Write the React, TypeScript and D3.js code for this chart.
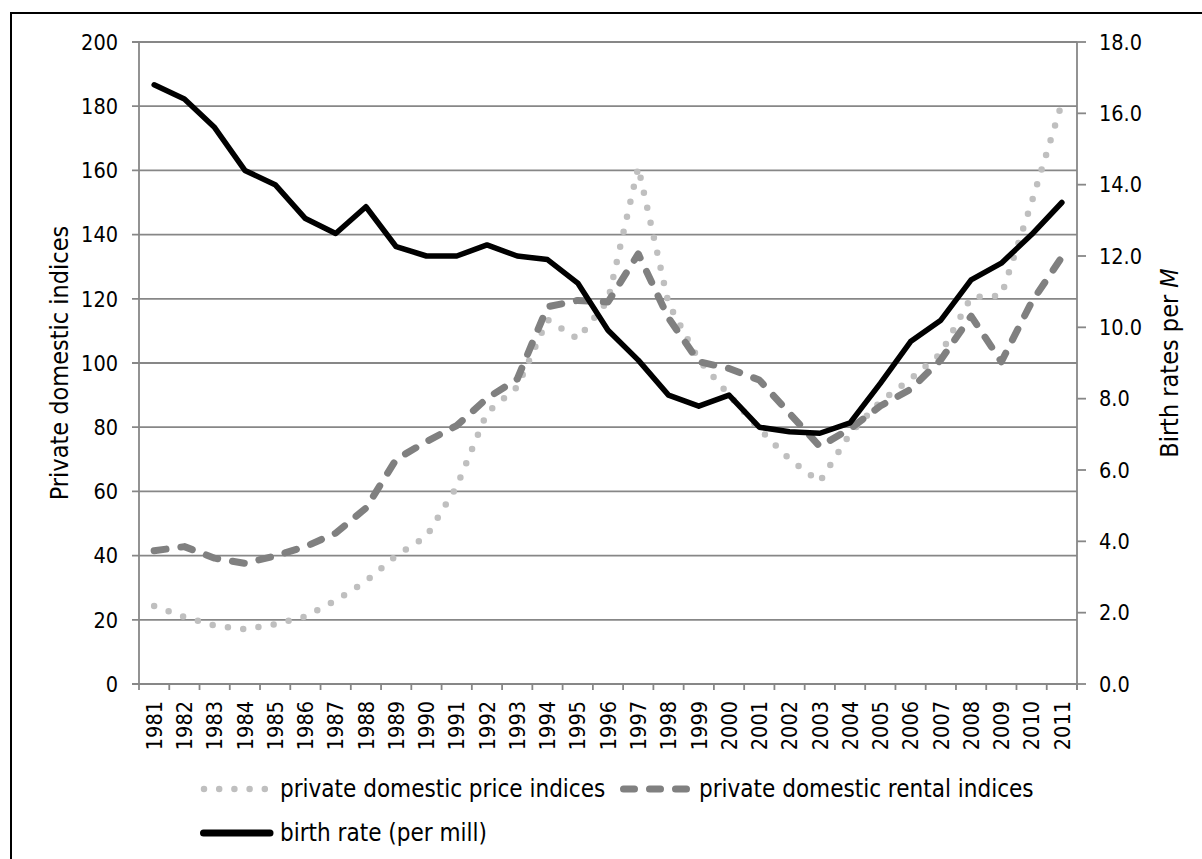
import React from "react";
import * as d3 from "d3";

const years: string[] = [
  "1981","1982","1983","1984","1985","1986","1987","1988","1989","1990",
  "1991","1992","1993","1994","1995","1996","1997","1998","1999","2000",
  "2001","2002","2003","2004","2005","2006","2007","2008","2009","2010","2011",
];

const priceIndices: number[] = [
  24.3, 20.9, 18.2, 17.1, 18.6, 21, 26, 32, 40, 46,
  61.5, 84.5, 92.5, 113.5, 107.5, 119.5, 161, 118.5, 101, 90,
  79.5, 70, 63, 78, 88, 95, 103, 120.5, 121, 150, 181,
];

const rentalIndices: number[] = [
  41.5, 42.8, 39.2, 37.6, 39.9, 42.8, 47, 54.8, 70, 75.5,
  80.5, 89, 95, 117.5, 119.5, 119, 134, 114, 100.4, 98.3,
  94.7, 84.3, 74, 79.5, 86.6, 91.8, 101, 114.6, 100.4, 119, 133,
];

const birthRate: number[] = [
  16.8, 16.4, 15.6, 14.4, 14.0, 13.05, 12.63, 13.38, 12.26, 12.0,
  12.0, 12.31, 12.0, 11.9, 11.24, 9.92, 9.08, 8.1, 7.79, 8.1,
  7.2, 7.07, 7.03, 7.32, 8.43, 9.6, 10.2, 11.33, 11.8, 12.6, 13.5,
];

const leftTicks: number[] = [0, 20, 40, 60, 80, 100, 120, 140, 160, 180, 200];
const rightTicks: number[] = [0, 2, 4, 6, 8, 10, 12, 14, 16, 18];

const FONT = "'DejaVu Sans Condensed', 'DejaVu Sans', sans-serif";

export default function App() {
  const W = 1202;
  const H = 859;
  const left = 139;
  const right = 1077;
  const top = 42;
  const bottom = 684;

  const x = d3.scaleBand<string>().domain(years).range([left, right]).paddingInner(0).paddingOuter(0);
  const yL = d3.scaleLinear().domain([0, 200]).range([bottom, top]);
  const yR = d3.scaleLinear().domain([0, 18]).range([bottom, top]);
  const cx = (y: string) => (x(y) as number) + x.bandwidth() / 2;

  const lineL = d3
    .line<number>()
    .x((_, i) => cx(years[i]))
    .y((d) => yL(d));
  const lineR = d3
    .line<number>()
    .x((_, i) => cx(years[i]))
    .y((d) => yR(d));

  const grid = "#878787";
  const fmtR = d3.format(".1f");
  const bounds = [...years.map((y) => x(y) as number), right];

  return (
    <svg
      width={W}
      height={H}
      style={{ position: "absolute", left: 0, top: 0, background: "#fff" }}
      fontFamily={FONT}
    >
      <rect x={0} y={0} width={W} height={H} fill="#fff" />
      <rect x={11} y={13} width={W + 20} height={H + 20} fill="none" stroke="#000" strokeWidth={2} />

      {/* gridlines */}
      {leftTicks.map((t) => (
        <line key={"g" + t} x1={left - 7} x2={right} y1={yL(t)} y2={yL(t)} stroke={grid} strokeWidth={1.8} />
      ))}
      {/* left axis */}
      <line x1={left} x2={left} y1={top} y2={bottom} stroke={grid} strokeWidth={1.8} />
      {/* right axis */}
      <line x1={right} x2={right} y1={top} y2={bottom + 6} stroke={grid} strokeWidth={1.8} />
      {rightTicks.map((t) => (
        <line key={"rt" + t} x1={right} x2={right + 9} y1={yR(t)} y2={yR(t)} stroke={grid} strokeWidth={1.8} />
      ))}
      {/* x ticks */}
      {bounds.map((b, i) => (
        <line key={"xt" + i} x1={b} x2={b} y1={bottom} y2={bottom + 6} stroke={grid} strokeWidth={1.8} />
      ))}

      {/* left tick labels */}
      {leftTicks.map((t) => (
        <text key={"lt" + t} x={118} y={yL(t)} dy="0.36em" textAnchor="end" fontSize={21.5} fill="#000">
          {t}
        </text>
      ))}
      {/* right tick labels */}
      {rightTicks.map((t) => (
        <text key={"rl" + t} x={1099} y={yR(t)} dy="0.36em" textAnchor="start" fontSize={21.5} fill="#000">
          {fmtR(t)}
        </text>
      ))}
      {/* x labels */}
      {years.map((yr) => (
        <text
          key={"xl" + yr}
          transform={`translate(${cx(yr)},701) rotate(-90)`}
          dy="0.36em"
          textAnchor="end"
          fontSize={21.5}
          fill="#000"
        >
          {yr}
        </text>
      ))}

      {/* axis titles */}
      <text transform={`translate(68,${(top + bottom) / 2}) rotate(-90)`} textAnchor="middle" fontSize={25} fill="#000">
        Private domestic indices
      </text>
      <text transform={`translate(1178,${(top + bottom) / 2}) rotate(-90)`} textAnchor="middle" fontSize={25} fill="#000">
        Birth rates per <tspan fontStyle="italic">M</tspan>
      </text>

      {/* series */}
      <path
        d={lineL(priceIndices) || ""}
        fill="none"
        stroke="#bfbfbf"
        strokeWidth={6.5}
        strokeDasharray="0 15.4"
        strokeLinecap="round"
        strokeLinejoin="round"
      />
      <path
        d={lineL(rentalIndices) || ""}
        fill="none"
        stroke="#808080"
        strokeWidth={7}
        strokeDasharray="12 15"
        strokeLinecap="round"
        strokeLinejoin="round"
      />
      <path
        d={lineR(birthRate) || ""}
        fill="none"
        stroke="#000"
        strokeWidth={5.5}
        strokeLinecap="round"
        strokeLinejoin="round"
      />

      {/* legend */}
      <line x1={204} x2={268} y1={789} y2={789} stroke="#bfbfbf" strokeWidth={6.5} strokeDasharray="0 15.2" strokeLinecap="round" />
      <text x={280} y={797} fontSize={24} fill="#000">private domestic price indices</text>
      <line x1={623.5} x2={687} y1={789} y2={789} stroke="#808080" strokeWidth={7} strokeDasharray="11 15" strokeLinecap="round" />
      <text x={699} y={797} fontSize={24} fill="#000">private domestic rental indices</text>
      <line x1={203.5} x2={270} y1={833} y2={833} stroke="#000" strokeWidth={7} strokeLinecap="round" />
      <text x={280} y={841} fontSize={24} fill="#000">birth rate (per mill)</text>
    </svg>
  );
}
